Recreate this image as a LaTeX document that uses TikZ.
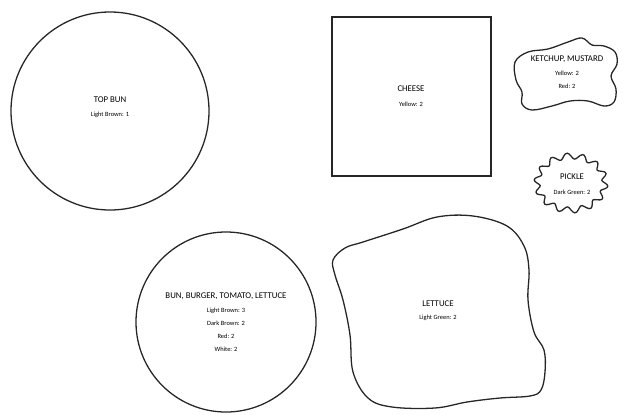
\documentclass[tikz,border=0pt]{standalone}
\usepackage{fontspec}
\setmainfont{Carlito}
\usepackage{tikz}
\usetikzlibrary{positioning}

\begin{document}
\begin{tikzpicture}[
    x=0.03cm, y=-0.03cm,
    outline/.style={draw, line width=1.1pt, black!85},
    part/.style={outline, circle, inner sep=0pt},
    title/.style={font=\fontsize{7.5}{9}\selectfont, inner sep=1pt},
    note/.style={font=\fontsize{5.5}{11}\selectfont, align=center, inner sep=1pt}
]
\useasboundingbox (0,0) rectangle (624,414);

% Top bun
\node[part, minimum size=5.94cm] (topbun) at (110,111) {};
\node[title] (topbun-t) at (110,100) {TOP BUN};
\node[note] (topbun-n) at (110,115) {Light Brown: 1};

% Cheese
\node[outline, rectangle, minimum size=4.77cm] (cheese) at (411.5,96.5) {};
\node[title] (cheese-t) at (411,89) {CHEESE};
\node[note] (cheese-n) at (411,104) {Yellow: 2};

% Ketchup and mustard
\draw[outline] plot[smooth cycle, tension=0.6] coordinates {
    (515,62) (528,52) (548,49) (568,42) (582,38) (592,45) (604,46) (615,52)
    (617,64) (611,76) (616,89) (614,102) (604,106) (588,101) (570,101)
    (552,106) (532,110) (522,104) (522,92) (516,80)};
\node[title] (sauce-t) at (567,59) {KETCHUP, MUSTARD};
\node[note] (sauce-n) at (567,80) {Yellow: 2\\Red: 2};

% Pickle
\draw[outline] plot[smooth cycle, domain=0:357, samples=120]
    ({571+(34+3*sin(14*\x))*cos(\x)}, {183+(27+3*sin(14*\x))*sin(\x)});
\node[title] (pickle-t) at (572,177) {PICKLE};
\node[note] (pickle-n) at (572,192) {Dark Green: 2};

% Bun, burger, tomato, lettuce
\node[part, minimum size=5.4cm] (stack) at (226,322) {};
\node[title] (stack-t) at (226,296) {BUN, BURGER, TOMATO, LETTUCE};
\node[note] (stack-n) at (226,329.5) {Light Brown: 3\\Dark Brown: 2\\Red: 2\\White: 2};

% Lettuce
\draw[outline] plot[smooth cycle, tension=0.6] coordinates {
    (333,260) (345,248) (363,242) (403,229) (437,217) (473,216) (507,226)
    (524,246) (529,270) (528,300) (534,332) (544,350) (545,372) (541,390)
    (530,396) (500,398) (467,402) (435,408) (392,407) (368,398) (353,372)
    (350,335) (343,300) (335,275)};
\node[title] (lettuce-t) at (438,304) {LETTUCE};
\node[note] (lettuce-n) at (438,318) {Light Green: 2};

\end{tikzpicture}
\end{document}
